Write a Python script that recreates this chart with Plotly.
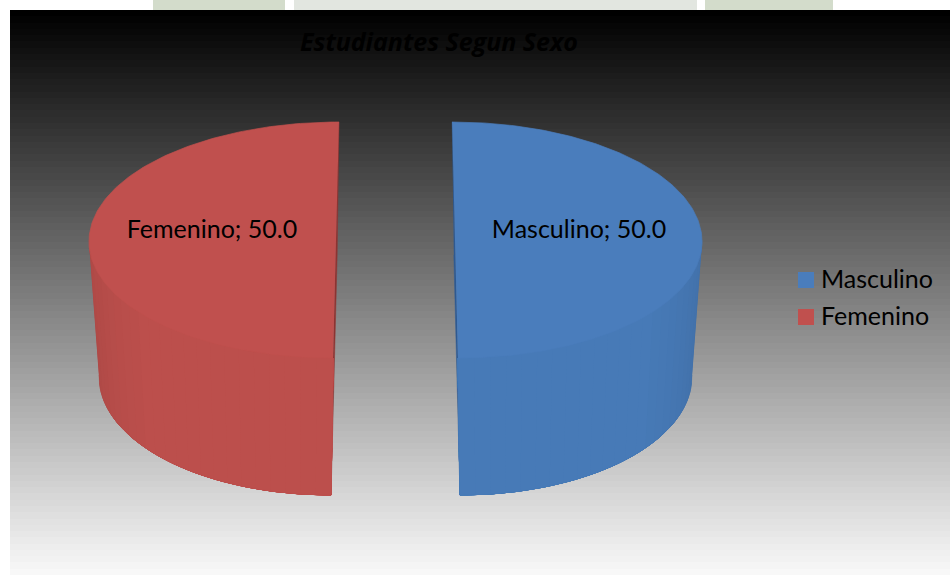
import numpy as np
import plotly.graph_objects as go

categories = ["Masculino", "Femenino"]
values = [50.0, 50.0]
colors_top = ["#4A7DBC", "#C0504E"]
colors_wall = ["#477AB7", "#BC4F4C"]
colors_cut = ["#2F5A92", "#8E3432"]
title_text = "Estudiantes Segun Sexo"

FONT = "Open Sans"
LABEL_FONT = "Lato"
W, H = 950, 575
CX = 395.5
TOP = dict(cy=240.0, a=247.0, b=118.0, e=59.5)
BOT = dict(cy=375.0, a=235.0, b=120.0, e=61.4)
PERSP = 0.05


def project(theta, mid, lvl):
    """theta, mid: clockwise from north, radians."""
    u, v = np.sin(theta), -np.cos(theta)
    du = np.sin(mid)
    x = CX + lvl["a"] * u + lvl["e"] * (1 + PERSP * v) * du
    y = lvl["cy"] + lvl["b"] * v
    return x, y


def shade(hex_col, f):
    r, g, b = (int(hex_col[i:i + 2], 16) for i in (1, 3, 5))
    return f"rgb({r * f:.0f},{g * f:.0f},{b * f:.0f})"


fig = go.Figure()

# background gradient
n_bands = 90
edges = np.linspace(10, 575, n_bands + 1)
fig.add_trace(go.Heatmap(
    x=[10, 950], y=edges, z=[[i] for i in range(n_bands)],
    colorscale=[[0, "#000000"], [1, "#F8F8F8"]], showscale=False,
    hoverinfo="skip"))

total = sum(values)
start = 0.0
for i, (cat, val) in enumerate(zip(categories, values)):
    sweep = 2 * np.pi * val / total
    t0, t1 = start, start + sweep
    mid = (t0 + t1) / 2
    start = t1

    # cut face of the wedge
    fig.add_trace(go.Scatter(
        x=[project(t0, mid, TOP)[0], project(t1, mid, TOP)[0],
           project(t1, mid, BOT)[0], project(t0, mid, BOT)[0]],
        y=[project(t0, mid, TOP)[1], project(t1, mid, TOP)[1],
           project(t1, mid, BOT)[1], project(t0, mid, BOT)[1]],
        mode="lines", fill="toself", fillcolor=colors_cut[i],
        line=dict(color=colors_cut[i], width=0.5),
        hoverinfo="skip", showlegend=False))

    # outer wall, painted as overlapping sections so no seams show
    lo, hi = max(t0, np.pi / 2), min(t1, 3 * np.pi / 2)
    steps = np.linspace(lo, hi, 25)
    # paint from the silhouette edge towards the front / cut edge
    order = steps[:-1] if mid < np.pi else steps[::-1][:-1]
    end = hi if mid < np.pi else lo
    for a0 in order:
        arc = np.linspace(a0, end, 60)
        xt, yt = project(arc, mid, TOP)
        xb, yb = project(arc[::-1], mid, BOT)
        f = 0.92 + 0.08 * min(1.0, abs(np.cos(a0)) * 1.6)
        col = shade(colors_wall[i], f)
        fig.add_trace(go.Scatter(
            x=np.concatenate([xt, xb]), y=np.concatenate([yt, yb]),
            mode="lines", fill="toself", fillcolor=col,
            line=dict(color=col, width=0.5),
            hoverinfo="skip", showlegend=False))

    # top face
    th = np.linspace(t0, t1, 181)
    xs, ys = project(th, mid, TOP)
    fig.add_trace(go.Scatter(
        x=xs, y=ys, mode="lines", fill="toself", fillcolor=colors_top[i],
        line=dict(color=colors_top[i], width=0.7),
        hoverinfo="skip", showlegend=False))

# data labels
lab_x, lab_y = [], []
start = 0.0
for val in values:
    sweep = 2 * np.pi * val / total
    mid = start + sweep / 2
    start += sweep
    lab_x.append(CX + np.sin(mid) * 183.5)
    lab_y.append(232)
fig.add_trace(go.Scatter(
    x=lab_x, y=lab_y, mode="text",
    text=[f"{c}; {v:.1f}" for c, v in zip(categories, values)],
    textposition="middle center",
    textfont=dict(family=LABEL_FONT, size=25, color="#000000"),
    hoverinfo="skip", showlegend=False))

# legend, placed by hand so swatch and text spacing match
leg_y = [280 + 37 * i for i in range(len(categories))]
fig.add_trace(go.Scatter(
    x=[806] * len(categories), y=leg_y, mode="markers",
    marker=dict(symbol="square", size=16, color=colors_top, line=dict(width=0)),
    hoverinfo="skip", showlegend=False))
fig.add_trace(go.Scatter(
    x=[821] * len(categories), y=[y + 2 for y in leg_y], mode="text", text=categories,
    textposition="middle right",
    textfont=dict(family=LABEL_FONT, size=25, color="#000000"),
    hoverinfo="skip", showlegend=False))

# watermark strip above the chart
strip = [(153, 285, "#D3DCCB"), (294, 697, "#E2E6E0"), (705, 833, "#D3DCCB")]
shapes = [dict(type="rect", xref="x", yref="y", x0=a, x1=b, y0=0, y1=10,
               fillcolor=c, line=dict(width=0), layer="below") for a, b, c in strip]

fig.update_layout(
    width=W, height=H, margin=dict(l=0, r=0, t=0, b=0),
    paper_bgcolor="white", plot_bgcolor="white", shapes=shapes, showlegend=False,
    xaxis=dict(range=[0, W], visible=False, fixedrange=True),
    yaxis=dict(range=[H, 0], visible=False, fixedrange=True),
    annotations=[dict(text=f"<b><i>{title_text}</i></b>", x=439, y=41,
                      xref="x", yref="y", showarrow=False,
                      font=dict(family=FONT, size=25, color="#000000"))],
)
fig.write_html("out.html", config=dict(displayModeBar=False),
               post_script="document.body.style.margin='0';document.documentElement.style.overflow='hidden';")
